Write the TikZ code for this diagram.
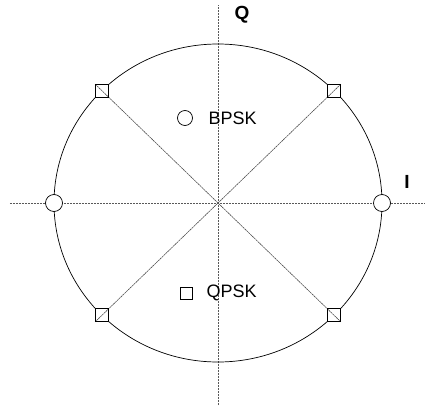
\documentclass[tikz,border=0pt]{standalone}
\usepackage{fontspec}
\setmainfont{Liberation Sans}
\begin{document}
\begin{tikzpicture}[
  x=1pt, y=1pt, font=\fontsize{18}{21}\selectfont,
  axis/.style={gray!70!black, line width=0.6pt, dash pattern=on 2pt off 1pt},
  diag/.style={gray!60!black, line width=0.6pt, dash pattern=on 2pt off 0.6pt},
  bpsk/.style={draw, circle, fill=white, line width=0.7pt, minimum size=17pt, inner sep=0pt},
  qpsk/.style={draw, rectangle, line width=0.6pt, minimum size=13pt, inner sep=0pt},
  lbl/.style={font=\fontsize{19}{22}\selectfont\bfseries}
]
\useasboundingbox (-218,-204) rectangle (209,203);

%% Axes and unit circle
\coordinate (o) at (0,0);
\coordinate (west) at (-208,0);
\coordinate (east) at (207,0);
\coordinate (north) at (0,198);
\coordinate (south) at (0,-202);
\draw[axis] (west) -- (east);
\draw[axis] (south) -- (north);
\draw[line width=0.7pt] (o) ellipse [x radius=164, y radius=159];
\node[lbl] (qlbl) at (24,188) {Q};
\node[lbl] (ilbl) at (189,21) {I};

%% BPSK points
\node[bpsk] (b0) at (164,0) {};
\node[bpsk] (b1) at (-164,0) {};

%% QPSK points
\node[qpsk, fill=white] (q1) at (116,112) {};
\node[qpsk, fill=white] (q2) at (-116,112) {};
\node[qpsk, fill=white] (q3) at (-116,-112) {};
\node[qpsk, fill=white] (q4) at (116,-112) {};
\draw[diag] (q1.north east) -- (q3.south west);
\draw[diag] (q2.north west) -- (q4.south east);
\foreach \q in {q1,q2,q3,q4}
  \node[qpsk] at (\q) {};

%% Legend
\node[bpsk, minimum size=15pt] (kb) at (-33,85) {};
\node[anchor=west] (kbt) at (-13,85) {BPSK};
\node[qpsk, minimum size=12pt] (kq) at (-32,-90) {};
\node[anchor=west] (kqt) at (-15,-90) {QPSK};

\end{tikzpicture}
\end{document}
